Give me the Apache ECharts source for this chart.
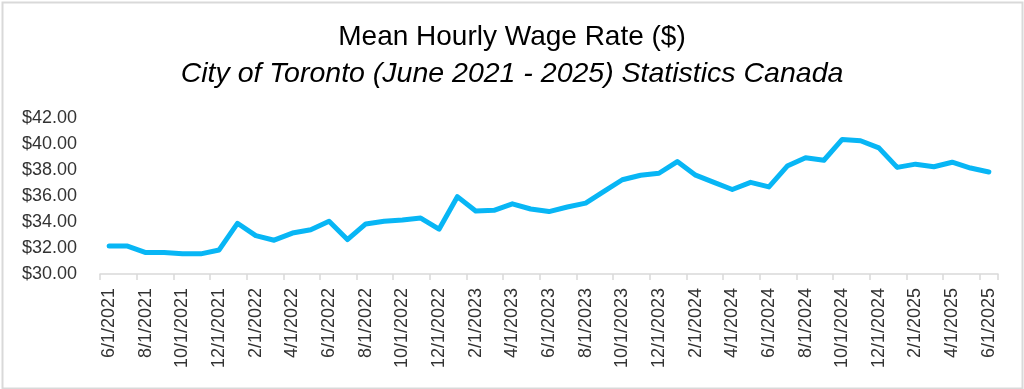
<!DOCTYPE html>
<html>
<head>
<meta charset="utf-8">
<script src="https://cdn.jsdelivr.net/npm/echarts@6/dist/echarts.min.js"></script>
<style>
html,body{margin:0;padding:0;background:#fff;}
#chart{width:1024px;height:389px;}
</style>
</head>
<body>
<div id="chart"></div>
<script>
// Monthly categories June 2021 - June 2025
const categories = [
  "6/1/2021","7/1/2021","8/1/2021","9/1/2021","10/1/2021","11/1/2021","12/1/2021",
  "1/1/2022","2/1/2022","3/1/2022","4/1/2022","5/1/2022","6/1/2022","7/1/2022","8/1/2022","9/1/2022","10/1/2022","11/1/2022","12/1/2022",
  "1/1/2023","2/1/2023","3/1/2023","4/1/2023","5/1/2023","6/1/2023","7/1/2023","8/1/2023","9/1/2023","10/1/2023","11/1/2023","12/1/2023",
  "1/1/2024","2/1/2024","3/1/2024","4/1/2024","5/1/2024","6/1/2024","7/1/2024","8/1/2024","9/1/2024","10/1/2024","11/1/2024","12/1/2024",
  "1/1/2025","2/1/2025","3/1/2025","4/1/2025","5/1/2025","6/1/2025"
];
const wages = [
  32.15,32.15,31.65,31.65,31.55,31.55,31.85,
  33.90,32.95,32.60,33.15,33.40,34.05,32.65,33.85,34.05,34.15,34.30,33.45,
  35.95,34.85,34.90,35.40,35.00,34.80,35.15,35.45,36.35,37.25,37.60,37.75,
  38.65,37.60,37.05,36.50,37.05,36.70,38.30,38.95,38.75,40.35,40.25,39.70,
  38.20,38.45,38.25,38.60,38.15,37.85
];
const yTicks = { min: 30, max: 42, interval: 2 };
const titleText = "Mean Hourly Wage Rate ($)";
const subtitleText = "City of Toronto (June 2021 - 2025) Statistics Canada";

const chart = echarts.init(document.getElementById('chart'), null, {renderer:'canvas'});
chart.setOption({
  animation: false,
  backgroundColor: '#ffffff',
  title: [
    { text: titleText, left: 'center', top: 18,
      textStyle: { fontFamily: 'Liberation Sans', fontWeight: 'normal', fontSize: 28, color: '#000' } },
    { text: subtitleText, left: 'center', top: 55,
      textStyle: { fontFamily: 'Liberation Sans', fontStyle: 'italic', fontWeight: 'normal', fontSize: 28.5, color: '#000' } }
  ],
  graphic: [{
    type: 'rect', left: 0, top: 0,
    shape: { x: 1, y: 1, width: 1020, height: 386 },
    style: { fill: 'none', stroke: '#d9d9d9', lineWidth: 2 },
    silent: true
  }],
  grid: { left: 100, right: 26, top: 118, bottom: 115 },
  xAxis: {
    type: 'category',
    data: categories,
    boundaryGap: true,
    axisLine: { show: true, lineStyle: { color: '#d9d9d9', width: 1.5 } },
    axisTick: { show: true, interval: 1, length: 6, alignWithLabel: false, lineStyle: { color: '#d9d9d9', width: 1.5 } },
    axisLabel: { interval: 1, rotate: 90, margin: 14, fontFamily: 'Liberation Sans', fontSize: 18, color: '#333' }
  },
  yAxis: {
    type: 'value',
    min: yTicks.min, max: yTicks.max, interval: yTicks.interval,
    axisLine: { show: false },
    axisTick: { show: false },
    splitLine: { show: false },
    axisLabel: { margin: 23, fontFamily: 'Liberation Sans', fontSize: 18, color: '#333',
      formatter: v => '$' + v.toFixed(2) }
  },
  series: [{
    type: 'line',
    data: wages,
    showSymbol: false,
    lineStyle: { color: '#08b6f5', width: 5, join: 'round', cap: 'round' },
    itemStyle: { color: '#08b6f5' }
  }]
});
</script>
</body>
</html>
